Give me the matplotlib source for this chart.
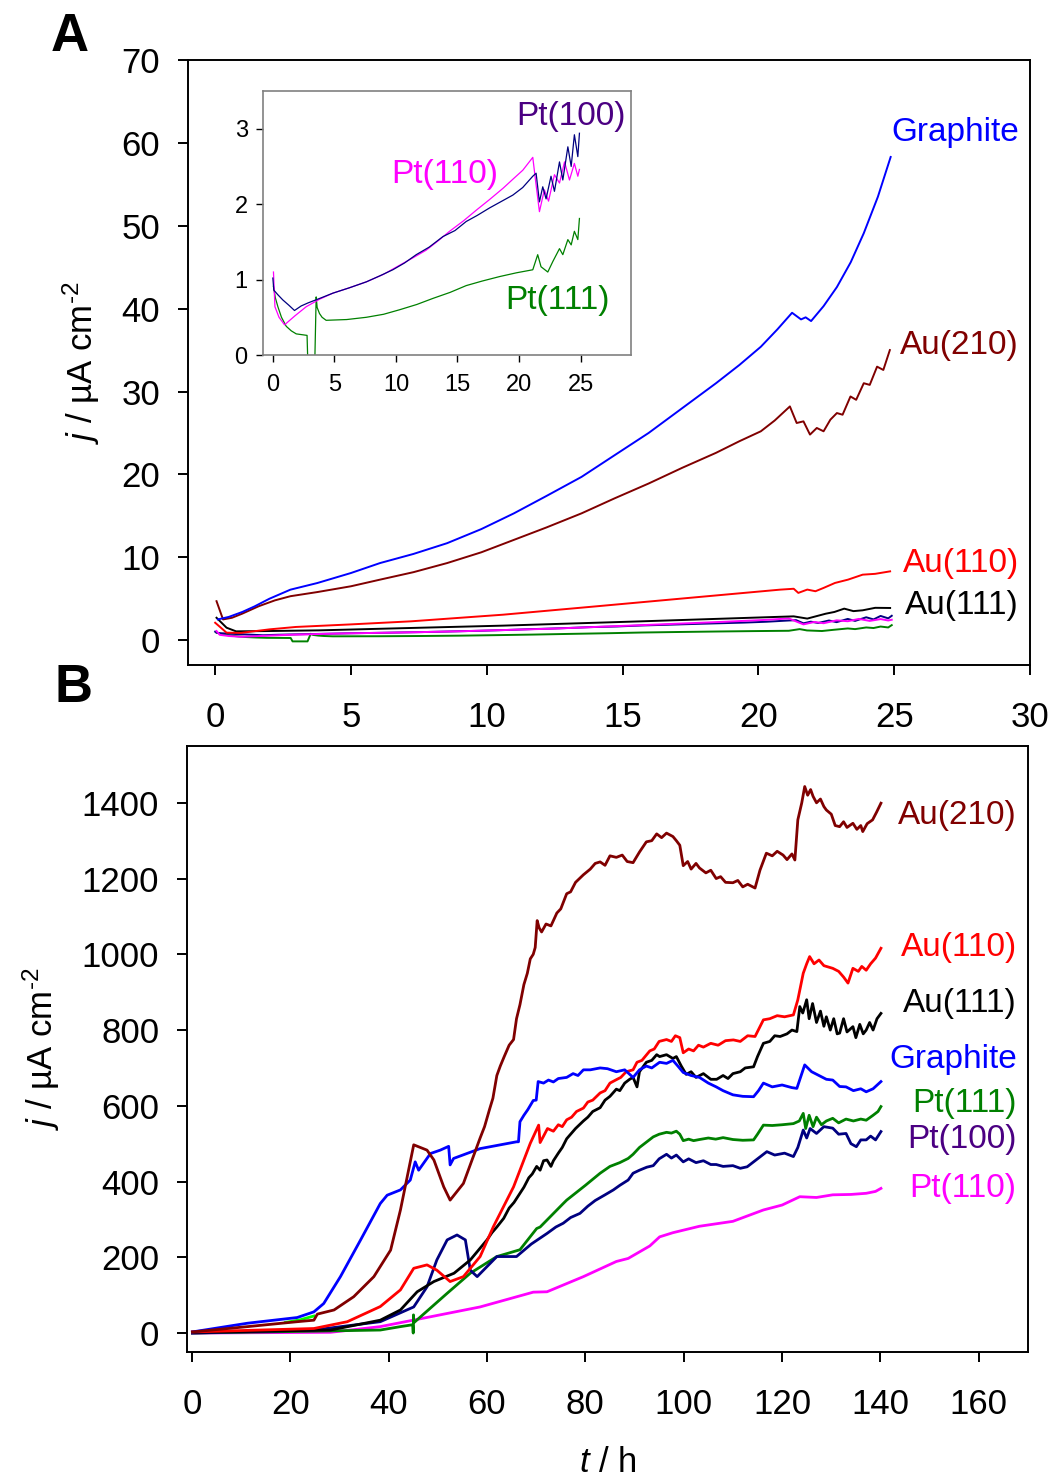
import matplotlib
matplotlib.use("Agg")
import matplotlib.pyplot as plt

plt.rcParams['font.family'] = ['Liberation Sans', 'DejaVu Sans']
plt.rcParams['mathtext.fontset'] = 'custom'
plt.rcParams['mathtext.rm'] = 'Liberation Sans'
plt.rcParams['mathtext.it'] = 'Liberation Sans:italic'

# ---------------- panel A : first 25 h ----------------
graphite_a_t = [0.1, 0.5, 1.0, 1.45, 2.0, 2.77, 3.76, 5.0, 6.07, 7.3, 8.54, 9.8, 11.0, 12.2, 13.49,
                14.7, 15.96, 17.2, 18.44, 19.3, 20.09, 20.7, 21.24, 21.57, 21.74, 21.94, 22.4, 22.89,
                23.4, 23.88, 24.4, 24.87]
graphite_a_j = [2.5, 2.8, 3.4, 4.07, 5.0, 6.09, 6.89, 8.1, 9.3, 10.4, 11.7, 13.4, 15.3, 17.4, 19.7,
                22.3, 25.0, 28.0, 31.0, 33.2, 35.4, 37.5, 39.5, 38.7, 38.95, 38.5, 40.3, 42.6,
                45.6, 49.1, 53.5, 58.3]

au210_a_t = [0.05, 0.29, 0.62, 1.0, 1.61, 2.2, 2.77, 3.76, 5.0, 6.07, 7.3, 8.54, 9.8, 11.0, 12.2,
             13.49, 14.7, 15.96, 17.2, 18.44, 19.3, 20.09, 20.6, 21.16, 21.41, 21.66, 21.9, 22.15,
             22.4, 22.65, 22.89, 23.1, 23.39, 23.6, 23.88, 24.1, 24.37, 24.6, 24.84]
au210_a_j = [4.7, 2.5, 2.7, 3.2, 4.1, 4.8, 5.3, 5.8, 6.5, 7.3, 8.2, 9.3, 10.6, 12.1, 13.6,
             15.3, 17.1, 18.9, 20.8, 22.6, 24.0, 25.2, 26.5, 28.2, 26.2, 26.4, 24.8, 25.6,
             25.2, 26.6, 27.4, 27.2, 29.4, 29.0, 31.0, 30.8, 33.0, 32.6, 35.0]

au110_a_t = [0.0, 0.42, 0.94, 2.0, 2.97, 5.0, 7.21, 10.6, 14.0, 17.39, 20.79, 21.3, 21.47, 21.8,
             22.1, 22.4, 22.82, 23.3, 23.84, 24.3, 24.85]
au110_a_j = [2.1, 0.9, 0.87, 1.3, 1.59, 1.9, 2.27, 3.07, 4.07, 5.08, 6.09, 6.2, 5.7, 6.1,
             5.9, 6.3, 6.9, 7.3, 7.9, 8.0, 8.3]

au111_a_t = [0.05, 0.42, 0.77, 2.0, 3.82, 7.0, 10.6, 15.7, 21.3, 21.8, 22.48, 22.8, 23.16, 23.5,
             23.84, 24.3, 24.85]
au111_a_j = [2.7, 1.5, 1.06, 1.1, 1.18, 1.45, 1.75, 2.27, 2.87, 2.6, 3.19, 3.4, 3.8, 3.5,
             3.6, 3.9, 3.88]

pt100_a_t = [0.0, 0.08, 0.4, 0.81, 1.3, 1.76, 2.3, 2.85, 3.8, 4.88, 6.2, 7.6, 8.7, 9.75, 10.7, 11.65,
             12.7, 13.82, 14.8, 15.71, 16.6, 17.61, 18.5, 19.5, 20.3, 21.12, 21.39, 21.66, 21.93,
             22.2, 22.6, 22.88, 23.29, 23.56, 23.97, 24.24, 24.5, 24.78, 24.91]
pt100_a_j = [1.02, 0.86, 0.8, 0.73, 0.66, 0.59, 0.65, 0.69, 0.75, 0.82, 0.89, 0.97, 1.05, 1.13, 1.22,
             1.33, 1.43, 1.57, 1.65, 1.77, 1.85, 1.95, 2.03, 2.12, 2.22, 2.37, 2.41, 2.03, 2.23,
             2.07, 2.37, 2.17, 2.56, 2.32, 2.76, 2.5, 2.92, 2.63, 2.94]

pt110_a_t = [0.05, 0.17, 0.5, 0.95, 1.8, 2.71, 3.8, 4.88, 6.2, 7.6, 9.0, 10.3, 11.4, 12.46, 13.4, 14.36,
             15.5, 16.53, 17.6, 18.7, 19.5, 20.31, 21.12, 21.34, 21.66, 22.06, 22.4, 22.88, 23.29,
             23.7, 24.1, 24.5, 24.78, 24.91]
pt110_a_j = [1.1, 0.64, 0.5, 0.4, 0.52, 0.64, 0.74, 0.82, 0.89, 0.97, 1.07, 1.19, 1.29, 1.39, 1.51,
             1.64, 1.78, 1.92, 2.06, 2.21, 2.33, 2.45, 2.62, 2.32, 1.9, 2.19, 2.04, 2.39, 2.28,
             2.56, 2.32, 2.54, 2.37, 2.46]

pt111_a_t = [0.05, 0.2, 0.41, 0.7, 1.09, 1.5, 1.9, 2.78, 2.85, 3.4, 3.52, 3.6, 3.79, 4.0, 4.33, 6.0,
             7.6, 9.0, 10.3, 11.7, 13.0, 14.4, 15.71, 17.0, 18.43, 19.8, 21.12, 21.52, 21.79,
             22.34, 22.75, 23.29, 23.56, 23.97, 24.24, 24.5, 24.78, 24.91]
pt111_a_j = [0.91, 0.76, 0.64, 0.5, 0.38, 0.32, 0.28, 0.26, -0.15, -0.15, 0.77, 0.63, 0.55, 0.5,
             0.46, 0.47, 0.5, 0.54, 0.6, 0.67, 0.75, 0.83, 0.92, 0.98, 1.04, 1.09, 1.13, 1.33,
             1.17, 1.1, 1.24, 1.41, 1.33, 1.53, 1.46, 1.64, 1.53, 1.81]

# ---------------- panel B : whole run ----------------
au210_b_t = [0.1, 11.3, 21.4, 24.8, 25.5, 28.9, 32.9, 37.0, 40.4, 42.4, 45.1, 47.8, 49.2, 51.2, 52.5,
             55.2, 58.6, 59.5, 60.5, 61.2, 62.0, 62.7, 63.5, 64.5, 65.4, 66.0, 66.7, 67.5, 68.2,
             68.8, 69.4, 69.8, 70.2, 70.6, 71.1, 72.0, 73.0, 74.2, 75.0, 76.2, 77.0, 78.0, 79.6,
             81.0, 82.0, 83.0, 84.0, 85.0, 86.3, 87.5, 88.5, 89.7, 91.0, 92.4, 93.5, 94.5, 95.5,
             96.5, 97.8, 98.5, 99.2, 99.9, 100.8, 101.5, 102.5, 103.2, 104.5, 105.5, 106.6, 107.5,
             108.5, 110.0, 111.0, 112.0, 113.0, 114.5, 115.5, 116.8, 118.0, 119.0, 120.2, 121.0,
             122.0, 122.6, 123.2, 124.0, 124.6, 125.2, 125.8, 126.3, 127.0, 127.8, 128.5, 129.0,
             130.0, 130.8, 131.7, 132.5, 133.2, 134.4, 135.2, 136.0, 136.4, 137.3, 138.4, 139.2,
             140.1]
au210_b_j = [3, 17, 30, 34, 50, 61, 96, 149, 219, 325, 497, 483, 457, 386, 351,
             395, 515, 545, 590, 620, 680, 705, 730, 760, 775, 830, 867, 920, 950,
             988, 1000, 1018, 1089, 1070, 1059, 1080, 1075, 1109, 1120, 1160, 1165, 1190, 1210,
             1225, 1240, 1244, 1235, 1260, 1256, 1262, 1245, 1242, 1270, 1297, 1300, 1318, 1308,
             1320, 1311, 1300, 1288, 1234, 1245, 1225, 1240, 1228, 1215, 1222, 1200, 1205,
             1190, 1189, 1195, 1178, 1185, 1175, 1222, 1267, 1260, 1272, 1262, 1250,
             1265, 1249, 1355, 1400, 1443, 1420, 1435, 1417, 1400, 1410, 1390, 1381,
             1370, 1340, 1337, 1350, 1335, 1346, 1330, 1340, 1324, 1345, 1355, 1375,
             1399]

au110_b_t = [0.1, 24.8, 31.6, 38.3, 42.4, 45.1, 47.8, 49.8, 52.5, 55.2, 58.6, 61.3, 65.4, 68.8, 70.5,
             70.8, 71.5, 72.3, 73.5, 74.5, 75.3, 76.2, 77.2, 78.2, 79.6, 80.5, 81.5, 83.0, 84.0,
             85.0, 86.3, 87.2, 88.3, 89.7, 90.5, 91.5, 93.1, 94.0, 95.0, 96.5, 97.5, 98.3, 99.2,
             99.9, 101.0, 102.0, 103.0, 104.0, 105.5, 107.0, 108.5, 110.1, 111.5, 113.0, 114.5,
             116.2, 117.5, 119.0, 120.5, 122.3, 123.2, 124.3, 125.0, 125.6, 126.5, 127.5, 128.5,
             130.3, 131.5, 132.5, 133.4, 134.4, 135.5, 136.2, 137.1, 138.0, 139.0, 140.1]
au110_b_j = [3, 12, 30, 70, 114, 171, 180, 166, 136, 149, 202, 281, 386, 501, 549,
             503, 520, 540, 533, 550, 545, 563, 570, 585, 594, 610, 615, 634, 640,
             660, 669, 675, 690, 695, 715, 720, 745, 750, 770, 775, 770, 785, 780,
             740, 750, 745, 760, 755, 765, 760, 772, 774, 770, 785, 783,
             827, 830, 838, 835, 840, 880, 950, 975, 994, 975, 985, 970,
             963, 955, 940, 924, 963, 955, 968, 958, 975, 990, 1016]

au111_b_t = [0.1, 28.2, 38.3, 42.4, 45.8, 49.2, 53.3, 56.6, 60.0, 61.0, 62.0, 63.4, 64.5, 65.5, 66.7,
             67.5, 68.5, 69.2, 70.1, 70.8, 71.5, 72.2, 73.0, 73.5, 74.5, 75.3, 76.2, 77.0, 78.0,
             79.6, 80.5, 81.5, 83.0, 84.0, 85.0, 86.3, 87.0, 88.0, 89.0, 89.7, 90.5, 91.0, 92.4,
             93.5, 94.5, 95.1, 96.5, 97.8, 98.5, 99.5, 100.5, 101.5, 102.5, 104.0, 105.5, 106.7,
             108.0, 109.0, 110.0, 111.5, 112.5, 114.2, 115.0, 116.2, 117.5, 118.5, 119.6, 121.0,
             122.0, 123.0, 123.6, 124.2, 125.0, 125.5, 126.2, 127.0, 127.8, 128.5, 129.0, 129.8,
             130.5, 131.2, 131.7, 132.5, 133.2, 134.4, 135.0, 135.8, 136.5, 137.1, 137.8, 138.5,
             139.3, 140.1]
au111_b_j = [2, 8, 34, 61, 109, 136, 158, 193, 246, 265, 280, 303, 330, 345, 369,
             385, 410, 420, 440, 430, 455, 457, 440, 455, 475, 490, 513, 525, 540,
             560, 570, 585, 595, 615, 625, 644, 640, 660, 670, 675, 650, 690, 715,
             720, 735, 730, 735, 725, 730, 705, 683, 690, 675, 685, 670, 670,
             680, 672, 685, 690, 700, 703, 730, 765, 770, 785, 783, 790,
             800, 796, 862, 845, 880, 830, 870, 820, 850, 810, 835, 800,
             830, 790, 792, 830, 795, 809, 780, 815, 790, 800, 820, 800,
             830, 844]

graphite_b_t = [0.1, 11.3, 21.4, 24.8, 26.8, 30.2, 34.3, 38.3, 39.7, 42.4, 44.4, 45.4, 46.1, 48.5,
                50.5, 52.2, 52.5, 53.2, 58.6, 66.0, 66.4, 66.7, 67.5, 68.3, 69.4, 70.0, 70.4, 71.5,
                72.5, 73.5, 74.5, 76.2, 77.5, 78.5, 79.6, 81.0, 83.0, 84.5, 86.3, 88.0, 89.7, 91.0,
                92.4, 93.5, 95.1, 96.5, 97.8, 98.8, 99.9, 101.5, 103.2, 105.0, 106.6, 108.0, 110.0,
                112.0, 114.2, 115.2, 116.2, 118.0, 120.0, 122.0, 123.0, 124.6, 126.0, 127.5, 129.0,
                130.3, 131.7, 133.0, 134.5, 136.0, 137.1, 138.5, 140.1]
graphite_b_j = [3, 26, 41, 56, 78, 149, 246, 342, 364, 378, 404, 452, 430, 474,
                483, 493, 444, 461, 487, 505, 505, 558, 575, 590, 614, 615, 664, 660,
                668, 663, 672, 675, 685, 680, 695, 695, 700, 698, 690, 695, 675, 695,
                705, 700, 715, 712, 720, 705, 688, 680, 675, 660, 650, 640, 629,
                625, 624, 640, 660, 650, 655, 648, 646, 708, 690, 680, 670,
                668, 651, 650, 640, 645, 637, 645, 664]

pt111_b_t = [0.1, 24.8, 38.3, 42.4, 44.9, 45.0, 45.05, 45.1, 51.9, 56.6, 62.0, 65.4, 66.7, 70.1,
             70.8, 75.5, 76.2, 80.0, 83.0, 85.0, 87.0, 88.7, 89.7, 91.0, 92.5, 93.8, 95.0, 96.5,
             97.5, 98.5, 99.2, 99.9, 101.0, 102.0, 103.2, 105.0, 106.5, 108.0, 110.0, 112.0,
             114.2, 115.0, 116.2, 118.0, 120.0, 122.3, 123.5, 124.3, 124.8, 125.5, 126.3, 127.0,
             128.0, 129.0, 130.3, 131.5, 133.0, 134.5, 136.0, 137.1, 138.5, 139.5, 140.1]
pt111_b_j = [0, 5, 8, 17, 22, 0, 48, 27, 105, 158, 202, 215, 220, 276,
             280, 342, 351, 390, 422, 440, 450, 461, 472, 490, 505, 518, 525, 530,
             528, 533, 525, 508, 512, 508, 511, 515, 512, 516, 511, 509,
             510, 525, 549, 548, 550, 553, 560, 580, 540, 575, 545, 570,
             550, 560, 567, 555, 565, 560, 565, 562, 575, 585, 598]

pt100_b_t = [0.1, 24.8, 38.3, 45.1, 47.8, 49.8, 51.9, 53.9, 55.6, 56.6, 58.0, 62.0, 66.0, 69.0, 72.2,
             74.0, 75.5, 77.0, 78.9, 80.5, 82.0, 84.0, 85.7, 87.0, 88.7, 89.7, 91.0, 92.5, 93.8,
             95.0, 96.5, 97.5, 98.5, 99.9, 101.0, 102.5, 104.0, 105.5, 106.6, 108.0, 110.0, 111.5,
             112.9, 114.5, 116.9, 118.5, 120.5, 122.3, 123.2, 124.3, 125.0, 125.7, 127.0, 128.5,
             130.3, 131.5, 133.0, 134.0, 135.1, 136.0, 137.1, 138.0, 139.0, 140.1]
pt100_b_j = [0, 8, 30, 69, 122, 193, 246, 259, 246, 166, 149, 202, 202, 235, 263,
             280, 290, 305, 316, 335, 350, 365, 378, 390, 404, 422, 430, 438, 442,
             460, 472, 462, 470, 452, 460, 450, 455, 445, 445, 440, 442, 435,
             439, 455, 479, 470, 475, 466, 490, 536, 515, 540, 527, 545,
             541, 525, 527, 500, 492, 510, 510, 520, 510, 532]

pt110_b_t = [0.1, 28.2, 38.3, 48.5, 58.6, 69.4, 72.2, 79.6, 86.3, 88.7, 93.1, 95.1, 97.8, 103.2,
             110.0, 116.2, 120.0, 123.6, 127.0, 130.3, 134.0, 137.1, 139.0, 140.1]
pt110_b_j = [0, 2, 17, 43, 69, 108, 109, 149, 189, 197, 230, 254, 265, 282,
             295, 325, 338, 360, 358, 365, 366, 369, 374, 382]

lime_b_t = [19.0, 22.0, 24.8]
lime_b_j = [28, 35, 45]

C_GR = '#0000ff'
C_210 = '#800000'
C_110 = '#ff0000'
C_111 = '#000000'
C_P111 = '#008000'
C_P100 = '#000080'
C_P110 = '#ff00ff'
C_P100_TXT = '#4b0082'

W, H = 1051, 1483
fig = plt.figure(figsize=(W / 100, H / 100), dpi=100)


def box(l, t, r, b):
    return [l / W, 1 - b / H, (r - l) / W, (b - t) / H]


def style(ax, fs, pad_x, pad_y):
    for s in ax.spines.values():
        s.set_linewidth(1.4)
    ax.tick_params(direction='out', length=7, width=1.4, top=False, right=False)
    ax.tick_params(axis='x', pad=pad_x, labelsize=fs)
    ax.tick_params(axis='y', pad=pad_y, labelsize=fs)


ylab = r'$j$ / µA cm$^{‐2}$'

# ---- A
ax_a = fig.add_axes(box(188, 60, 1030, 665))
lw = 1.4
ax_a.plot(pt111_a_t, pt111_a_j, color=C_P111, lw=lw)
ax_a.plot(pt100_a_t, pt100_a_j, color=C_P100, lw=lw)
ax_a.plot(pt110_a_t, pt110_a_j, color=C_P110, lw=lw)
ax_a.plot(au111_a_t, au111_a_j, color=C_111, lw=lw)
ax_a.plot(au110_a_t, au110_a_j, color=C_110, lw=lw)
ax_a.plot(au210_a_t, au210_a_j, color=C_210, lw=lw)
ax_a.plot(graphite_a_t, graphite_a_j, color=C_GR, lw=lw)
ax_a.set_xlim(-1, 30)
ax_a.set_ylim(-3, 70)
ax_a.set_xticks(range(0, 31, 5))
ax_a.set_yticks(range(0, 71, 10))
style(ax_a, 25, 19, 13)
ax_a.set_ylabel(ylab, fontsize=25, labelpad=14)

lab_a = [('Graphite', 61.2, C_GR), ('Au(210)', 35.6, C_210),
         ('Au(110)', 9.2, C_110), ('Au(111)', 4.2, C_111)]
for txt, yv, c in lab_a:
    ax_a.text(29.6, yv, txt, color=c, fontsize=24, ha='right', va='center')

# ---- inset
ax_in = fig.add_axes(box(263, 91, 631, 355))
lw_in = 0.9
ax_in.plot(pt111_a_t, pt111_a_j, color=C_P111, lw=lw_in)
ax_in.plot(pt110_a_t, pt110_a_j, color=C_P110, lw=lw_in)
ax_in.plot(pt100_a_t, pt100_a_j, color=C_P100, lw=lw_in)
ax_in.set_xlim(-0.8, 29.1)
ax_in.set_ylim(0, 3.5)
ax_in.set_xticks(range(0, 26, 5))
ax_in.set_yticks([0, 1, 2, 3])
for s in ax_in.spines.values():
    s.set_linewidth(1.2)
    s.set_color('#808080')
ax_in.tick_params(direction='out', length=5, width=1, color='black', labelsize=17)
ax_in.tick_params(axis='x', pad=9)
ax_in.tick_params(axis='y', pad=6)
ax_in.text(19.8, 3.16, 'Pt(100)', color=C_P100_TXT, fontsize=24, va='center')
ax_in.text(9.6, 2.39, 'Pt(110)', color=C_P110, fontsize=24, va='center')
ax_in.text(18.9, 0.72, 'Pt(111)', color=C_P111, fontsize=24, va='center')

# ---- B
ax_b = fig.add_axes(box(187, 746, 1028, 1352))
lwb = 2.0
ax_b.plot(pt110_b_t, pt110_b_j, color=C_P110, lw=lwb)
ax_b.plot(pt111_b_t, pt111_b_j, color=C_P111, lw=lwb)
ax_b.plot(pt100_b_t, pt100_b_j, color=C_P100, lw=lwb)
ax_b.plot(lime_b_t, lime_b_j, color='#00ff00', lw=lwb)
ax_b.plot(au111_b_t, au111_b_j, color=C_111, lw=lwb)
ax_b.plot(au110_b_t, au110_b_j, color=C_110, lw=lwb)
ax_b.plot(graphite_b_t, graphite_b_j, color=C_GR, lw=lwb)
ax_b.plot(au210_b_t, au210_b_j, color=C_210, lw=lwb)
ax_b.set_xlim(-1, 170)
ax_b.set_ylim(-50, 1550)
ax_b.set_xticks(range(0, 161, 20))
ax_b.set_yticks(range(0, 1401, 200))
style(ax_b, 25, 19, 13)
ax_b.set_ylabel(ylab, fontsize=25, labelpad=14)
ax_b.set_xlabel(r'$t$ / h', fontsize=25, labelpad=18)

lab_b = [('Au(210)', 1366, C_210), ('Au(110)', 1017, C_110), ('Au(111)', 869, C_111),
         ('Graphite', 721, C_GR), ('Pt(111)', 605, C_P111), ('Pt(100)', 510, C_P100_TXT),
         ('Pt(110)', 383, C_P110)]
for txt, yv, c in lab_b:
    ax_b.text(167.7, yv, txt, color=c, fontsize=24, ha='right', va='center')

fig.text(70 / W, 1 - 37 / H, 'A', fontsize=38, fontweight='bold', ha='center', va='center')
fig.text(73 / W, 1 - 688 / H, 'B', fontsize=38, fontweight='bold', ha='center', va='center')

fig.savefig('out.png', dpi=100, facecolor='white')
